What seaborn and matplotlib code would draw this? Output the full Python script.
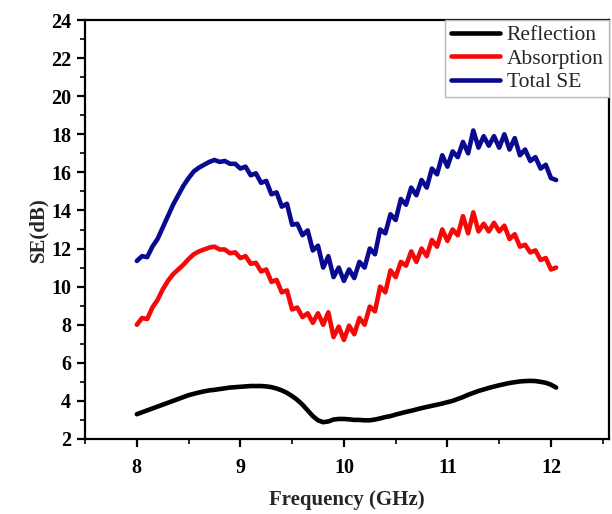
import matplotlib
matplotlib.use("Agg")
import matplotlib.pyplot as plt
from matplotlib.ticker import MultipleLocator
import numpy as np
import pandas as pd
import seaborn as sns

# Frequency sweep (GHz)
freq = [
    8.00, 8.05, 8.10, 8.15, 8.20, 8.25, 8.30, 8.35, 8.40, 8.45,
    8.50, 8.55, 8.60, 8.65, 8.70, 8.75, 8.80, 8.85, 8.90, 8.95,
    9.00, 9.05, 9.10, 9.15, 9.20, 9.25, 9.30, 9.35, 9.40, 9.45,
    9.50, 9.55, 9.60, 9.65, 9.70, 9.75, 9.80, 9.85, 9.90, 9.95,
    10.00, 10.05, 10.10, 10.15, 10.20, 10.25, 10.30, 10.35, 10.40, 10.45,
    10.50, 10.55, 10.60, 10.65, 10.70, 10.75, 10.80, 10.85, 10.90, 10.95,
    11.00, 11.05, 11.10, 11.15, 11.20, 11.25, 11.30, 11.35, 11.40, 11.45,
    11.50, 11.55, 11.60, 11.65, 11.70, 11.75, 11.80, 11.85, 11.90, 11.95,
    12.00, 12.05,
]

# Shielding effectiveness (dB)
reflection = [
    3.30, 3.40, 3.50, 3.60, 3.70, 3.80, 3.90, 4.00, 4.10, 4.20,
    4.30, 4.37, 4.44, 4.50, 4.55, 4.58, 4.62, 4.66, 4.70, 4.72,
    4.74, 4.76, 4.78, 4.78, 4.78, 4.76, 4.72, 4.65, 4.55, 4.42,
    4.25, 4.05, 3.80, 3.50, 3.20, 2.98, 2.88, 2.92, 3.02, 3.05,
    3.05, 3.03, 3.00, 3.00, 2.98, 2.98, 3.02, 3.08, 3.15, 3.20,
    3.28, 3.35, 3.42, 3.48, 3.55, 3.62, 3.68, 3.74, 3.80, 3.86,
    3.93, 4.00, 4.10, 4.20, 4.32, 4.42, 4.52, 4.60, 4.68, 4.75,
    4.82, 4.88, 4.94, 4.98, 5.02, 5.04, 5.05, 5.04, 5.00, 4.95,
    4.85, 4.70,
]

absorption = [
    8.00, 8.35, 8.30, 8.90, 9.30, 9.85, 10.30, 10.65, 10.90, 11.15,
    11.45, 11.70, 11.85, 11.95, 12.05, 12.10, 11.95, 11.95, 11.75, 11.80,
    11.50, 11.60, 11.20, 11.25, 10.80, 10.90, 10.25, 10.35, 9.70, 9.80,
    8.80, 8.90, 8.40, 8.60, 8.10, 8.60, 8.00, 8.65, 7.35, 7.90,
    7.20, 7.95, 7.50, 8.35, 8.00, 8.95, 8.70, 10.00, 9.70, 10.85,
    10.50, 11.30, 11.10, 11.85, 11.30, 12.00, 11.60, 12.45, 12.10, 13.00,
    12.40, 13.00, 12.70, 13.70, 12.80, 13.90, 12.90, 13.30, 12.90, 13.35,
    12.90, 13.20, 12.50, 12.75, 12.10, 12.20, 11.80, 11.90, 11.40, 11.50,
    10.90, 11.00,
]

total_se = [
    11.35, 11.60, 11.55, 12.10, 12.50, 13.10, 13.70, 14.30, 14.80, 15.30,
    15.70, 16.05, 16.25, 16.40, 16.55, 16.65, 16.55, 16.60, 16.45, 16.45,
    16.20, 16.30, 15.85, 15.95, 15.45, 15.55, 14.85, 14.95, 14.20, 14.35,
    13.25, 13.30, 12.70, 12.95, 11.90, 12.15, 11.00, 11.60, 10.50, 11.00,
    10.30, 10.90, 10.45, 11.30, 11.00, 12.00, 11.70, 13.00, 12.80, 13.80,
    13.50, 14.60, 14.30, 15.20, 14.80, 15.60, 15.20, 16.20, 15.90, 16.90,
    16.30, 17.10, 16.80, 17.60, 17.00, 18.20, 17.30, 17.90, 17.40, 17.90,
    17.30, 18.00, 17.20, 17.80, 16.90, 17.20, 16.60, 16.80, 16.20, 16.40,
    15.70, 15.60,
]

series_names = ["Reflection", "Absorption", "Total SE"]
series_colors = ["#000000", "#f50808", "#0a0a90"]

df = pd.concat(
    [
        pd.DataFrame({"Frequency": freq, "SE": vals, "Series": name})
        for name, vals in zip(series_names, [reflection, absorption, total_se])
    ],
    ignore_index=True,
)

sns.set_theme(style="ticks")
plt.rcParams["font.family"] = ["Liberation Serif", "DejaVu Serif"]

fig = plt.figure(figsize=(6.12, 5.14), dpi=100)
ax = fig.add_axes([0.139, 0.146, 0.856, 0.815])

sns.lineplot(
    data=df, x="Frequency", y="SE", hue="Series",
    hue_order=series_names, palette=series_colors,
    linewidth=3.3, ax=ax, legend=True,
)

ax.set_xlim(7.5, 12.56)
ax.set_ylim(2, 24)
ax.xaxis.set_major_locator(MultipleLocator(1))
ax.xaxis.set_minor_locator(MultipleLocator(0.5))
ax.yaxis.set_major_locator(MultipleLocator(2))
ax.yaxis.set_minor_locator(MultipleLocator(1))

for side in ["top", "right", "bottom", "left"]:
    ax.spines[side].set_visible(True)
    ax.spines[side].set_linewidth(1.6)
    ax.spines[side].set_color("black")

ax.tick_params(which="major", direction="out", length=6, width=1.6,
               labelsize=14.5, colors="black", top=False, right=False)
ax.tick_params(axis="x", which="major", pad=8)
ax.tick_params(axis="y", which="major", pad=4)
ax.tick_params(which="minor", direction="out", length=3.5, width=1.4,
               top=False, right=False)
for lbl in ax.get_xticklabels() + ax.get_yticklabels():
    lbl.set_fontweight("bold")

ax.set_xlabel("Frequency (GHz)", fontsize=15, fontweight="bold", labelpad=8)
ax.set_ylabel("SE(dB)", fontsize=15, fontweight="bold", labelpad=2)

handles, labels = ax.get_legend_handles_labels()
leg = ax.legend(
    handles, labels, loc="upper right", fontsize=15.5,
    frameon=True, fancybox=False, framealpha=1, edgecolor="#b8b8b8",
    borderaxespad=0, borderpad=0.25, labelspacing=0.15,
    handlelength=2.3, handletextpad=0.3,
)
leg.get_frame().set_linewidth(1.0)
for line in leg.get_lines():
    line.set_linewidth(3.3)

fig.savefig("out.png", dpi=100)
